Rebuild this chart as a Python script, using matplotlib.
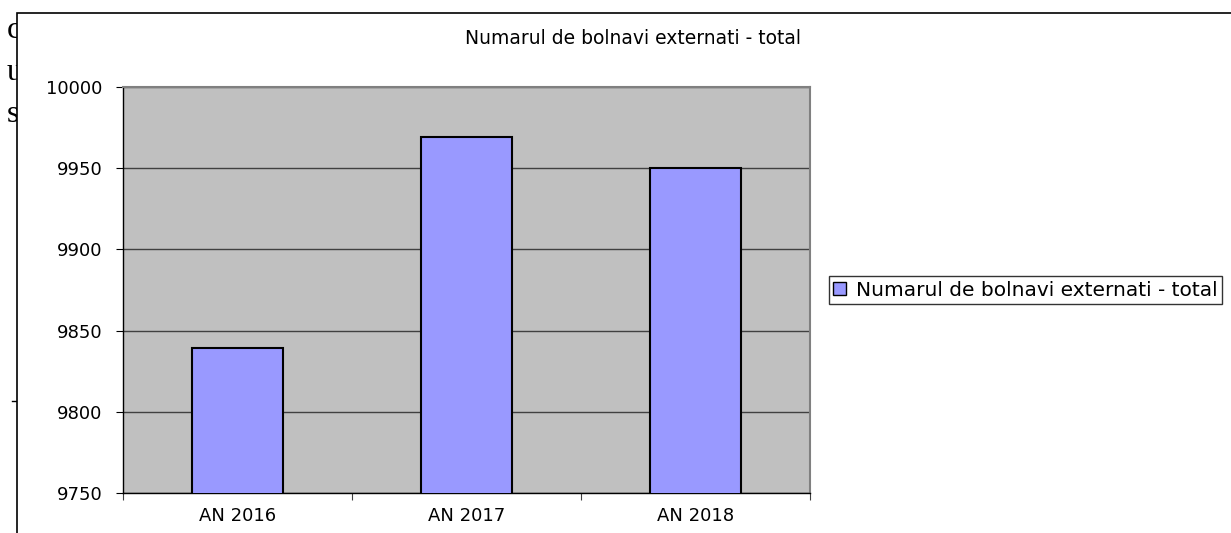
import matplotlib
matplotlib.use("Agg")
import matplotlib.pyplot as plt
from matplotlib.patches import Rectangle, Patch

categories = ["AN 2016", "AN 2017", "AN 2018"]
values = [9839, 9969, 9950]
series_name = "Numarul de bolnavi externati - total"
yticks = [9750, 9800, 9850, 9900, 9950, 10000]

W, H = 1231, 533
fig = plt.figure(figsize=(W / 100, H / 100), dpi=100)
FONT = "DejaVu Sans"

def fx(px):
    return px / W

def fy(py):
    return 1 - py / H

# background document letters (partly hidden by the chart frame)
for ch, y in [("c", 38), ("u", 80), ("s", 122)]:
    fig.text(fx(7), fy(y), ch, family="Liberation Serif", fontsize=23, zorder=0,
             va="baseline")
fig.add_artist(plt.Line2D([fx(12), fx(17)], [fy(401), fy(401)], color="black", lw=1, zorder=0))

# chart frame
fig.add_artist(Rectangle((fx(17), fy(600)), 1.2, fy(13) - fy(600),
                         transform=fig.transFigure, facecolor="white",
                         edgecolor="black", lw=1.2, zorder=1))

ax = fig.add_axes([fx(123), fy(493), fx(810) - fx(123), fy(87) - fy(493)], zorder=2)
ax.set_facecolor("#C0C0C0")
x = range(len(categories))
bars = ax.bar(x, values, width=0.4, color="#9999FF", edgecolor="black", lw=1.5,
              zorder=3, label=series_name)
ax.set_xlim(-0.5, 2.5)
ax.set_ylim(9750, 10000)
ax.set_yticks(yticks)
ax.yaxis.grid(True, color="#404040", lw=1)
ax.set_axisbelow(True)
ax.set_xticks([-0.5, 0.5, 1.5, 2.5])
ax.set_xticklabels([])
ax.set_xticks(list(x), minor=True)
ax.set_xticklabels(categories, minor=True)
ax.tick_params(axis="x", which="minor", length=0, pad=10, labelsize=13)
ax.tick_params(axis="x", which="major", length=5, direction="out", color="#404040")
ax.tick_params(axis="y", length=5, direction="out", pad=10, labelsize=13)
for lab in ax.get_xticklabels(minor=True) + ax.get_yticklabels():
    lab.set_family(FONT)
for s in ["top", "right"]:
    ax.spines[s].set_color("#808080")
    ax.spines[s].set_linewidth(1.5)
for s in ["left", "bottom"]:
    ax.spines[s].set_color("black")
    ax.spines[s].set_linewidth(1)

fig.text(fx(633), fy(38), series_name, ha="center", va="center", family=FONT,
         fontsize=13.5, zorder=3)

leg = fig.legend(handles=[Patch(facecolor="#9999FF", edgecolor="black", lw=1, label=series_name)],
                 loc="center left", bbox_to_anchor=(fx(829), fy(290)),
                 prop={"family": FONT, "size": 14.5}, frameon=True, fancybox=False,
                 handlelength=0.65, handleheight=0.6, handletextpad=0.5,
                 borderpad=0.2, borderaxespad=0)
leg.get_frame().set_edgecolor("black")
leg.get_frame().set_linewidth(1)
leg.set_zorder(4)

fig.savefig("out.png", dpi=100)
